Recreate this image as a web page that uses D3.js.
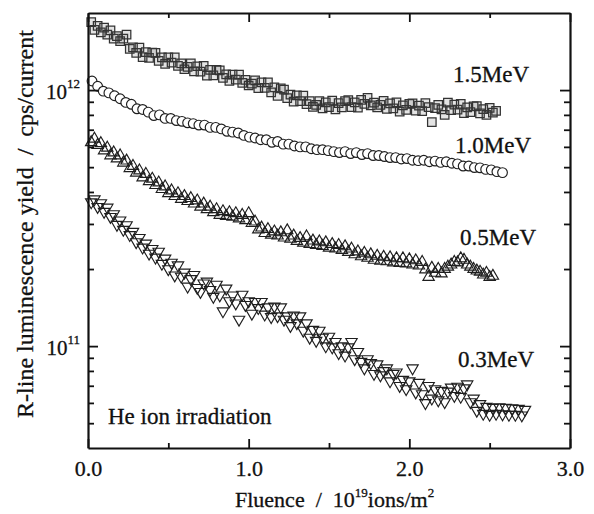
<!DOCTYPE html>
<html><head><meta charset="utf-8">
<script src="https://cdn.jsdelivr.net/npm/d3@7"></script>
<style>body{margin:0;background:#fff}svg{display:block}</style>
</head><body>
<svg id="c" width="594" height="514"></svg>
<script>
// ---------- data ----------
const UNIT = 1e11; // series values below are in units of 10^11 cps/current
const fluence = [
0.02,0.04,0.06,0.08,0.10,0.12,0.14,0.16,0.18,0.20,
0.22,0.24,0.26,0.28,0.30,0.32,0.34,0.36,0.38,0.40,
0.42,0.44,0.46,0.48,0.50,0.52,0.54,0.56,0.58,0.60,
0.62,0.64,0.66,0.68,0.70,0.72,0.74,0.76,0.78,0.80,
0.82,0.84,0.86,0.88,0.90,0.92,0.94,0.96,0.98,1.00,
1.02,1.04,1.06,1.08,1.10,1.12,1.14,1.16,1.18,1.20,
1.22,1.24,1.26,1.28,1.30,1.32,1.34,1.36,1.38,1.40,
1.42,1.44,1.46,1.48,1.50,1.52,1.54,1.56,1.58,1.60,
1.62,1.64,1.66,1.68,1.70,1.72,1.74,1.76,1.78,1.80,
1.82,1.84,1.86,1.88,1.90,1.92,1.94,1.96,1.98,2.00,
2.02,2.04,2.06,2.08,2.10,2.12,2.14,2.16,2.18,2.20,
2.22,2.24,2.26,2.28,2.30,2.32,2.34,2.36,2.38,2.40,
2.42,2.44,2.46,2.48,2.50,2.52,2.54,2.56,2.58,2.60,
2.62,2.64,2.66,2.68,2.70,2.72];
const fluenceCircles = [
0.025,0.06,0.095,0.13,0.165,0.2,0.235,0.27,0.305,0.34,
0.375,0.41,0.445,0.48,0.515,0.55,0.585,0.62,0.655,0.69,
0.725,0.76,0.795,0.83,0.865,0.9,0.935,0.97,1.005,1.04,
1.075,1.11,1.145,1.18,1.215,1.25,1.285,1.32,1.355,1.39,
1.425,1.46,1.495,1.53,1.565,1.6,1.635,1.67,1.705,1.74,
1.775,1.81,1.845,1.88,1.915,1.95,1.985,2.02,2.055,2.09,
2.125,2.16,2.195,2.23,2.265,2.3,2.335,2.37,2.405,2.44,
2.475,2.51,2.545,2.58];
const yield15 = [
18.42,17.17,17.83,16.8,17.53,16.45,17.11,15.89,16.23,15.54,
15.89,16.48,14.48,14.69,13.97,14.66,13.44,14.06,13.36,14.01,
13.97,13.0,13.43,12.67,13.43,12.81,13.42,12.43,12.71,12.06,
12.33,12.72,11.82,12.39,11.81,12.43,11.38,11.98,11.41,12.0,
11.95,11.16,11.51,10.85,11.48,10.98,11.49,10.68,10.95,10.42,
10.59,10.92,10.18,10.71,10.19,10.71,9.79,10.25,9.5,10.15,
10.04,9.31,9.6,9.02,9.53,9.06,9.52,8.82,9.05,8.59,
8.76,9.06,8.49,8.95,8.58,9.09,8.4,8.9,8.56,9.06,
9.13,8.57,8.96,8.54,9.15,8.83,9.33,8.72,8.94,8.56,
8.75,9.07,8.45,8.87,8.49,8.96,8.24,8.71,8.37,8.84,
8.88,8.32,8.69,8.28,8.89,8.57,7.5,8.51,8.76,8.4,
8.0,8.93,8.35,8.77,8.38,8.84,8.12,8.56,8.2,8.64,
8.66,8.11,8.43,8.0,8.52,8.17,8.3];
const yield10 = [
10.85,10.35,9.9,9.75,9.5,9.25,8.95,8.8,8.45,8.4,
8.2,7.95,8.0,7.75,7.75,7.6,7.55,7.45,7.4,7.3,
7.3,7.15,7.15,7.05,6.9,6.85,6.8,6.65,6.55,6.5,
6.4,6.4,6.25,6.3,6.15,6.15,6.05,6.0,6.0,5.9,
5.85,5.85,5.8,5.75,5.7,5.75,5.65,5.7,5.6,5.65,
5.55,5.55,5.5,5.45,5.45,5.38,5.4,5.32,5.3,5.32,
5.25,5.28,5.22,5.25,5.18,5.15,5.05,5.05,4.98,4.97,
4.9,4.88,4.8,4.76];
const yield05 = [
6.25,6.45,6.1,6.2,5.8,5.95,5.55,5.7,5.4,5.55,
5.2,5.3,4.95,5.05,4.75,4.85,4.55,4.7,4.4,4.5,
4.25,4.35,4.1,4.2,3.95,4.05,3.85,3.95,3.75,3.85,
3.68,3.78,3.6,3.7,3.5,3.6,3.42,3.5,3.33,3.42,
3.25,3.36,3.22,3.33,3.2,3.3,3.15,3.25,3.1,3.3,
3.02,3.06,2.85,2.9,2.76,2.86,2.72,2.8,2.7,2.78,
2.65,2.83,2.62,2.7,2.57,2.64,2.53,2.68,2.5,2.58,
2.48,2.56,2.46,2.54,2.42,2.5,2.4,2.48,2.37,2.45,
2.33,2.4,2.28,2.34,2.24,2.31,2.21,2.28,2.17,2.25,
2.15,2.23,2.14,2.22,2.12,2.2,2.11,2.2,2.1,2.18,
2.08,2.16,2.06,2.13,1.99,1.86,2.02,1.93,2.0,1.92,
2.0,2.04,2.08,2.13,2.12,2.2,2.17,2.08,2.04,2.0,
1.97,1.95,1.9,1.93,1.86,1.88];
const yield03 = [
3.65,3.75,3.5,3.62,3.35,3.48,3.2,3.28,2.98,3.1,
2.85,2.97,2.72,2.8,2.55,2.65,2.43,2.52,2.3,2.4,
2.22,2.34,2.1,2.2,2.0,2.12,1.89,2.07,1.87,1.94,
1.71,1.83,1.9,1.69,1.63,1.76,1.79,1.66,1.56,1.74,
1.58,1.37,1.68,1.5,1.58,1.47,1.27,1.59,1.45,1.5,
1.34,1.49,1.41,1.49,1.33,1.42,1.3,1.43,1.31,1.42,
1.27,1.31,1.2,1.32,1.23,1.31,1.15,1.23,1.08,1.16,
1.05,1.15,1.08,1.0,1.09,0.99,1.04,0.94,1.0,0.92,
0.99,1.04,0.89,0.95,0.87,0.82,0.89,0.86,0.78,0.85,
0.77,0.8,0.82,0.73,0.78,0.79,0.7,0.74,0.68,0.73,
0.82,0.66,0.72,0.65,0.6,0.7,0.625,0.68,0.615,0.67,
0.605,0.665,0.69,0.64,0.695,0.635,0.685,0.71,0.605,0.625,
0.56,0.595,0.545,0.58,0.54,0.575,0.545,0.578,0.542,0.575,
0.54,0.572,0.54,0.57,0.537,0.565];
const seriesLabels = ["1.5MeV","1.0MeV","0.5MeV","0.3MeV"];
const xMajorTicks = [0,1,2,3];
const xTickLabels = ["0.0","1.0","2.0","3.0"];
const xMinorTicks = [0.5,1.5,2.5];
const yMajorTicks = [1e11,1e12];
const yTickExponents = ["11","12"];
const yMinorTicks = [5e10,6e10,7e10,8e10,9e10,2e11,3e11,4e11,5e11,6e11,7e11,8e11,9e11];

// ---------- chart ----------
const svg = d3.select("#c");
const FONT = "'Liberation Serif','Times New Roman',serif";
const INK = "#111";
const x = d3.scaleLinear().domain([0,3]).range([88,570]);
const y = d3.scaleLog().domain([4e10,2e12]).range([448,13]);

const toPts = (xs, vs) => vs.map((v,i)=>({x:xs[i], y:v*UNIT}));
const series = [
  {pts: toPts(fluence, yield15), type: d3.symbolSquare, size: 72, rot: 0, stroke:"#333", fill:"#555", fo:0.16, sw:1.25},
  {pts: toPts(fluenceCircles, yield10), type: d3.symbolCircle, size: 74, rot: 0, stroke:"#1e1e1e", fill:"#fff", fo:1, sw:1.15},
  {pts: toPts(fluence, yield05), type: d3.symbolTriangle, size: 56, rot: 0, stroke:"#1e1e1e", fill:"none", fo:1, sw:1.15},
  {pts: toPts(fluence, yield03), type: d3.symbolTriangle, size: 56, rot: 180, stroke:"#1e1e1e", fill:"none", fo:1, sw:1.15}
];

const plot = svg.append("g");
series.forEach(s => {
  const path = d3.symbol(s.type, s.size)();
  plot.append("g").selectAll("path").data(s.pts).join("path")
    .attr("d", path)
    .attr("transform", d => `translate(${x(d.x)},${y(d.y)}) rotate(${s.rot})`)
    .attr("fill", s.fill)
    .attr("fill-opacity", s.fo)
    .attr("stroke", s.stroke)
    .attr("stroke-width", s.sw);
});

function styleAxis(g, removeDomain){
  g.attr("font-family", FONT).attr("fill", null);
  g.selectAll(".tick line").attr("stroke", INK).attr("stroke-width", 1.8);
  if (removeDomain) g.select(".domain").remove();
  else g.select(".domain").attr("stroke", INK).attr("stroke-width", 2.2);
}
const MAJ = -9, MIN = -5;
// bottom
svg.append("g").attr("transform","translate(0,448)")
  .call(d3.axisBottom(x).tickValues(xMajorTicks).tickSizeInner(MAJ).tickSizeOuter(0).tickPadding(12)
    .tickFormat((d,i)=>xTickLabels[i]))
  .call(g=>{styleAxis(g,false); g.selectAll("text").attr("font-size",22).attr("fill",INK)
    .attr("stroke",INK).attr("stroke-width",0.3);});
svg.append("g").attr("transform","translate(0,448)")
  .call(d3.axisBottom(x).tickValues(xMinorTicks).tickSizeInner(MIN).tickSizeOuter(0).tickFormat(""))
  .call(g=>styleAxis(g,true));
// top
svg.append("g").attr("transform","translate(0,13)")
  .call(d3.axisTop(x).tickValues(xMajorTicks).tickSizeInner(MAJ).tickSizeOuter(0).tickFormat(""))
  .call(g=>styleAxis(g,false));
svg.append("g").attr("transform","translate(0,13)")
  .call(d3.axisTop(x).tickValues(xMinorTicks).tickSizeInner(MIN).tickSizeOuter(0).tickFormat(""))
  .call(g=>styleAxis(g,true));
// left
svg.append("g").attr("transform","translate(88,0)")
  .call(d3.axisLeft(y).tickValues(yMajorTicks).tickSizeInner(MAJ-1).tickSizeOuter(0).tickFormat(""))
  .call(g=>{
    styleAxis(g,false);
    g.selectAll(".tick").each(function(d,i){
      const t = d3.select(this).append("text")
        .attr("x",-8).attr("y",8).attr("text-anchor","end")
        .attr("font-family",FONT).attr("font-size",21).attr("fill",INK)
        .attr("stroke",INK).attr("stroke-width",0.3);
      t.append("tspan").text("10");
      t.append("tspan").attr("dy",-11).attr("font-size",13).text(yTickExponents[i]);
    });
  });
svg.append("g").attr("transform","translate(88,0)")
  .call(d3.axisLeft(y).tickValues(yMinorTicks).tickSizeInner(MIN-1).tickSizeOuter(0).tickFormat(""))
  .call(g=>styleAxis(g,true));
// right
svg.append("g").attr("transform","translate(570,0)")
  .call(d3.axisRight(y).tickValues(yMajorTicks).tickSizeInner(MAJ-1).tickSizeOuter(0).tickFormat(""))
  .call(g=>styleAxis(g,false));
svg.append("g").attr("transform","translate(570,0)")
  .call(d3.axisRight(y).tickValues(yMinorTicks).tickSizeInner(MIN-1).tickSizeOuter(0).tickFormat(""))
  .call(g=>styleAxis(g,true));

// series annotations
const annot = [
  {t: seriesLabels[0], x: 453, y: 82},
  {t: seriesLabels[1], x: 455, y: 153},
  {t: seriesLabels[2], x: 460, y: 245},
  {t: seriesLabels[3], x: 458, y: 367},
  {t: "He ion irradiation", x: 108, y: 424}
];
svg.append("g").selectAll("text").data(annot).join("text")
  .attr("x", d=>d.x).attr("y", d=>d.y)
  .attr("font-family", FONT).attr("font-size", 23).attr("fill", INK)
  .attr("stroke", INK).attr("stroke-width", 0.3)
  .text(d=>d.t);

// axis titles
const xt = svg.append("text").attr("x",235).attr("y",507)
  .attr("font-family",FONT).attr("font-size",22).attr("fill",INK)
  .attr("stroke",INK).attr("stroke-width",0.3)
  .attr("xml:space","preserve");
xt.append("tspan").text("Fluence  /  10");
xt.append("tspan").attr("dy",-10).attr("font-size",13).text("19");
xt.append("tspan").attr("dy",10).text("ions/m");
xt.append("tspan").attr("dy",-10).attr("font-size",13).text("2");

svg.append("text")
  .attr("transform","translate(33,224) rotate(-90)")
  .attr("text-anchor","middle")
  .attr("font-family",FONT).attr("font-size",24).attr("fill",INK)
  .attr("stroke",INK).attr("stroke-width",0.3)
  .attr("xml:space","preserve")
  .text("R-line luminescence yield  /  cps/current");
</script>
</body></html>
